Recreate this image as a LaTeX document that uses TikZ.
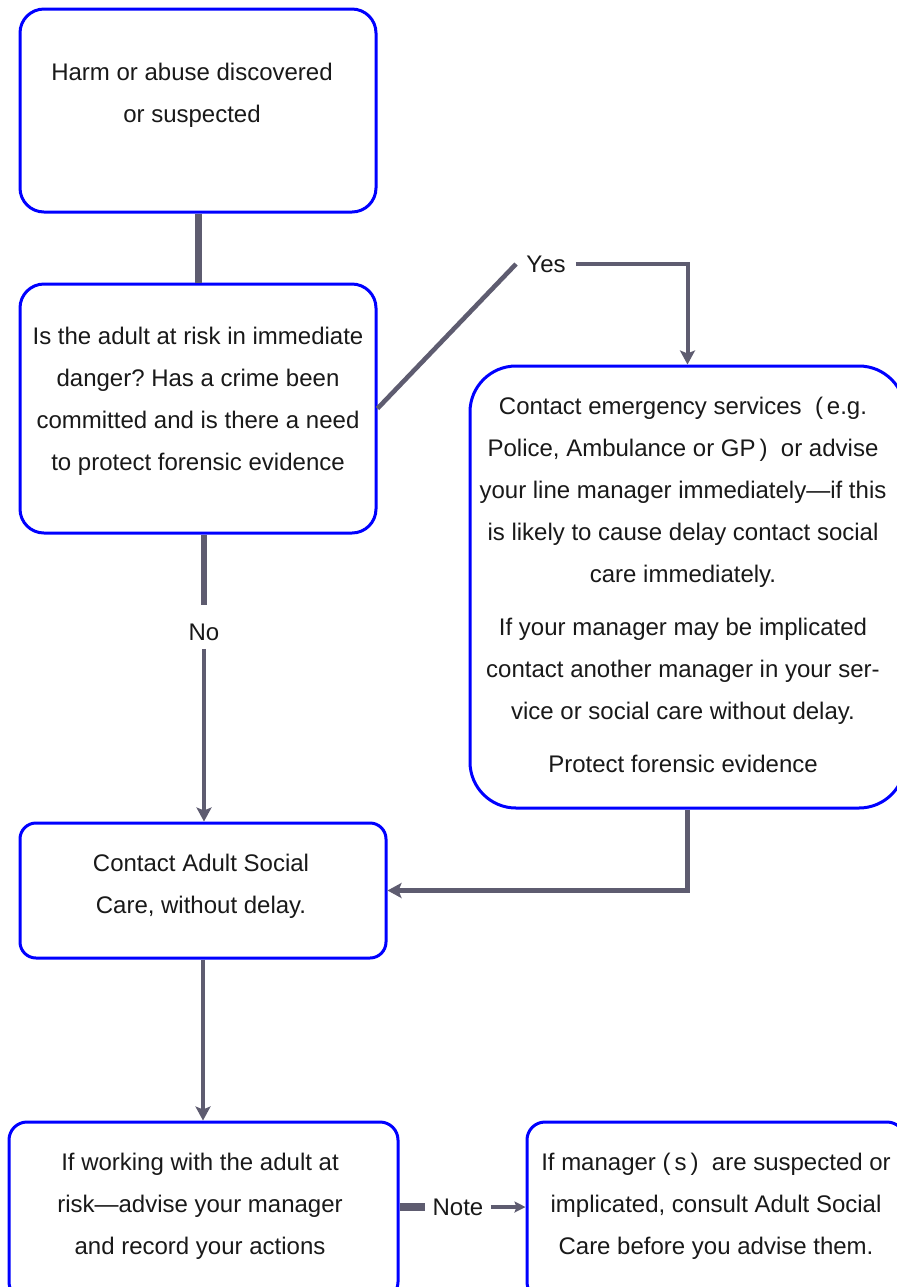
\documentclass[tikz,border=0pt]{standalone}
\usepackage{fontspec}
\setmainfont{Liberation Sans}
\usetikzlibrary{arrows.meta,fit}
\frenchspacing

\definecolor{ccblue}{RGB}{0,0,255}
\definecolor{ccslate}{RGB}{94,92,112}

\tikzset{
  box/.style={draw=ccblue, line width=1.5pt, inner sep=0pt},
  txt/.style={align=center, font=\fontsize{12}{21}\selectfont, text=black!90, inner sep=0pt},
  lbl/.style={txt, inner sep=4pt},
  link/.style={draw=ccslate, line width=2pt},
  arrow/.style={link, -{Stealth[length=7pt, width=7.5pt, inset=1.5pt]}},
}

\begin{document}
\begin{tikzpicture}[x=0.5pt, y=-0.5pt]

  % Page
  \useasboundingbox (0,0) rectangle (897,1287);
  \fill[white] (0,0) rectangle (897,1287);

  % Boxes
  \node[box, rounded corners=12pt, fit={(20,9) (376,212)}] (harm) {};
  \node[box, rounded corners=12pt, fit={(20,284) (376,533)}] (danger) {};
  \node[box, rounded corners=23pt, fit={(470,366) (905,808)}] (emergency) {};
  \node[box, rounded corners=8pt, fit={(20,823) (386,958)}] (social) {};
  \node[box, rounded corners=9pt, fit={(9,1122) (398,1300)}] (advise) {};
  \node[box, rounded corners=9pt, fit={(527,1122) (905,1300)}] (manager) {};

  % Texts
  \node[txt] (harmtxt) at (192,95) {Harm or abuse discovered\\or suspected};
  \node[txt] (dangertxt) at (198,401) {Is the adult at risk in immediate\\danger? Has a crime been\\committed and is there a need\\to protect forensic evidence};
  \node[txt] (emergencytxt) at (683,585) {Contact emergency services\ \ (\,e.g.\\
    Police, Ambulance or GP\,)\ \ or advise\\
    your line manager immediately—if this\\
    is likely to cause delay contact social\\
    care immediately.\\[5.5pt]
    If your manager may be implicated\\
    contact another manager in your ser-\\
    vice or social care without delay.\\[5.5pt]
    Protect forensic evidence};
  \node[txt] (socialtxt) at (201,886) {Contact Adult Social\\Care, without delay.};
  \node[txt] (advisetxt) at (200,1206) {If working with the adult at\\risk—advise your manager\\and record your actions};
  \node[txt] (managertxt) at (716,1206) {If manager (\,s\,)\ \ are suspected or\\implicated, consult Adult Social\\Care before you advise them.};

  % Labels
  \node[lbl, inner sep=5pt] (yes) at (546,264) {Yes};
  \node[lbl] (no) at (204,632) {No};
  \node[lbl, inner sep=3.5pt] (note) at (458,1207) {Note};

  % Connectors
  \draw[link, line width=3.5pt] (harm.south) -- (danger.north);
  \draw[link, line width=2.3pt] (danger.east) -- (yes.west);
  \draw[arrow] (yes.east) -| (emergency.north);
  \draw[link, line width=3.2pt, shorten >=5pt] (danger.south -| no) -- (no.north);
  \draw[arrow] (no.south) -- (social.north -| no);
  \draw[arrow, line width=2.3pt] (emergency.south) |- (social.east);
  \draw[arrow] (social.south) -- (advise.north -| social.south);
  \draw[link, line width=4pt] (advise.east |- note.west) -- (note.west);
  \draw[link, line width=1.8pt, -{Stealth[length=5.5pt, width=5.5pt, inset=1pt]}] (note.east) -- (manager.west |- note.east);

\end{tikzpicture}
\end{document}
